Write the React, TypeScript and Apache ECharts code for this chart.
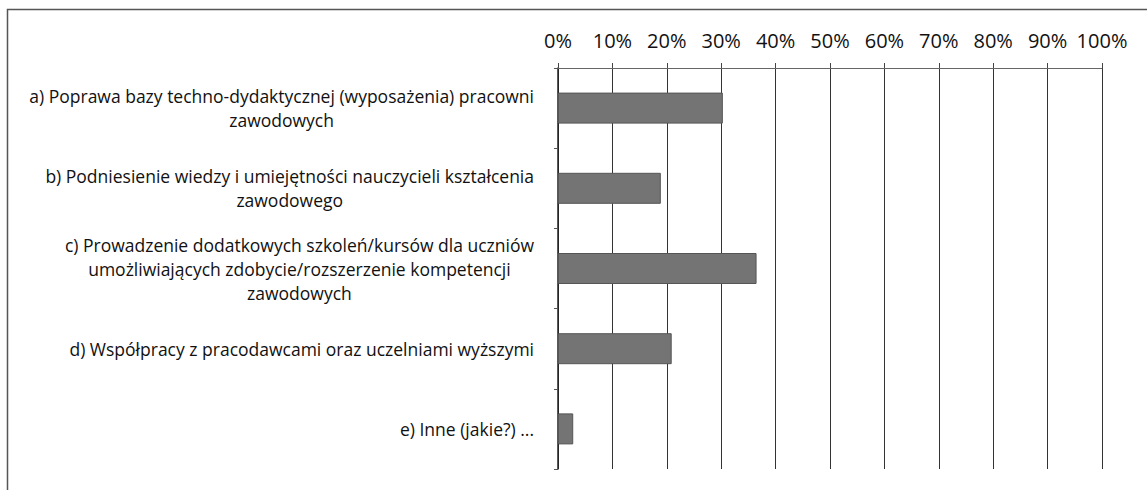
import React, { useEffect, useRef } from "react";
import * as echarts from "echarts";

const categories: string[] = [
  "a) Poprawa bazy techno-dydaktycznej (wyposażenia) pracowni\nzawodowych",
  "b) Podniesienie wiedzy i umiejętności nauczycieli kształcenia\nzawodowego",
  "c) Prowadzenie dodatkowych szkoleń/kursów dla uczniów\numożliwiających zdobycie/rozszerzenie kompetencji\nzawodowych",
  "d) Współpracy z pracodawcami oraz uczelniami wyższymi",
  "e) Inne (jakie?) ...",
];
const values: number[] = [30.3, 18.9, 36.5, 20.9, 2.8];
const axisMin = 0;
const axisMax = 100;
const axisStep = 10;

const FONT = "'Open Sans', 'Liberation Sans', sans-serif";

export default function App() {
  const ref = useRef<HTMLDivElement>(null);
  useEffect(() => {
    if (!ref.current) return;
    const chart = echarts.init(ref.current, undefined, { renderer: "svg" });
    chart.setOption({
      animation: false,
      backgroundColor: "#ffffff",
      grid: { left: 558, right: 45, top: 68, bottom: 21, containLabel: false },
      graphic: [
        {
          type: "rect",
          shape: { x: 7.5, y: 9.5, width: 1200, height: 600 },
          style: { fill: "none", stroke: "#555", lineWidth: 1.5 },
          silent: true,
        },
      ],
      xAxis: {
        type: "value",
        position: "top",
        min: axisMin,
        max: axisMax,
        interval: axisStep,
        axisLine: { show: true, lineStyle: { color: "#666", width: 1 } },
        axisTick: { show: true, length: 5, lineStyle: { color: "#444" } },
        splitLine: { show: true, lineStyle: { color: "#333", width: 1 } },
        axisLabel: {
          formatter: "{value}%",
          fontSize: 20,
          fontFamily: FONT,
          color: "#111",
          margin: 18,
        },
      },
      yAxis: {
        type: "category",
        inverse: true,
        data: categories,
        axisLine: { show: true, lineStyle: { color: "#222", width: 1.5 } },
        axisTick: { show: true, length: 4, lineStyle: { color: "#555" } },
        axisLabel: {
          margin: 24,
          fontSize: 17.5,
          fontFamily: FONT,
          color: "#111",
          formatter: (v: string) =>
            v
              .split("\n")
              .map((l) => `{c|${l}}`)
              .join("\n"),
          rich: {
            c: {
              align: "center",
              fontSize: 17.5,
              fontFamily: FONT,
              color: "#111",
              lineHeight: 24,
            },
          },
        },
      },
      series: [
        {
          type: "bar",
          data: values,
          barWidth: 31,
          itemStyle: { color: "#747474", borderColor: "#555", borderWidth: 1 },
        },
      ],
    });
    return () => chart.dispose();
  }, []);
  return (
    <div
      ref={ref}
      style={{ position: "fixed", left: 0, top: 0, width: 1147, height: 490 }}
    />
  );
}
